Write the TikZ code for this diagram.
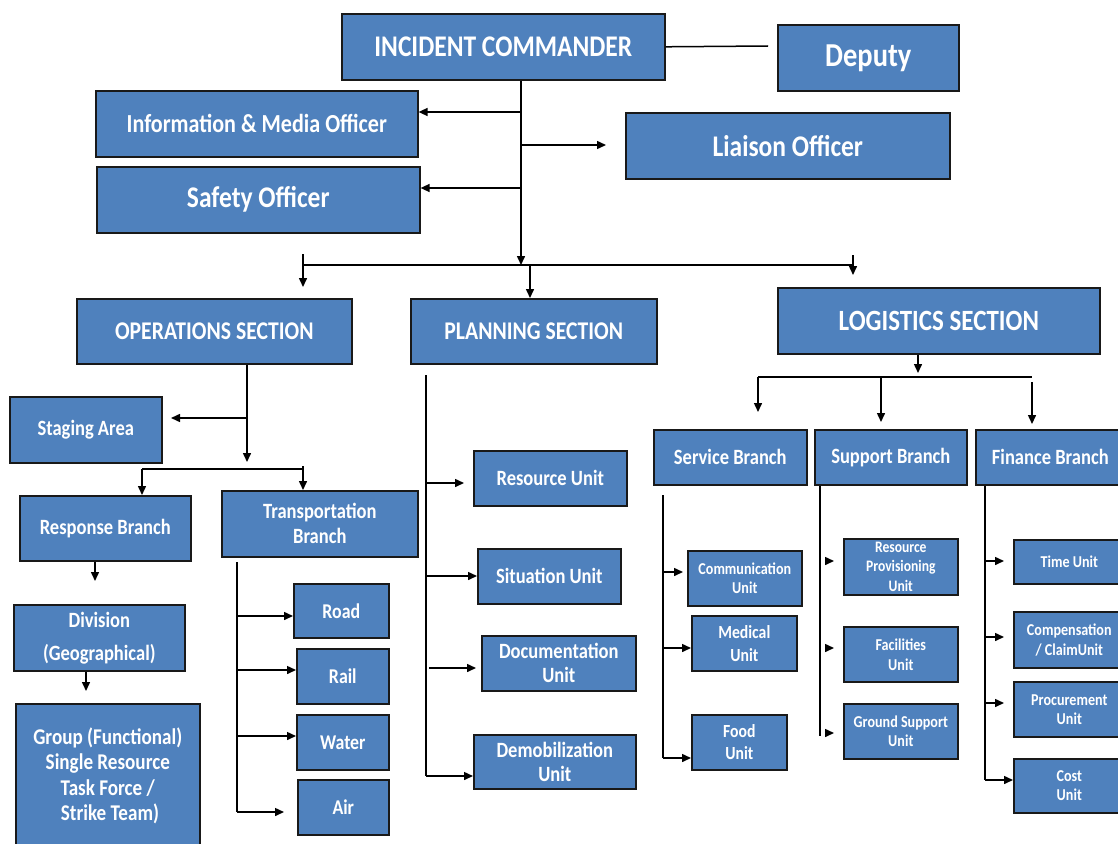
\documentclass[tikz,border=0pt]{standalone}
\usepackage{fontspec}
\setmainfont{Carlito}[FakeStretch=0.85]
\usetikzlibrary{arrows.meta}
\definecolor{boxblue}{HTML}{4F81BD}
\newcommand\myfs[2]{\fontsize{#1}{#2}\selectfont}
\begin{document}
\begin{tikzpicture}[x=1pt,y=-1pt,
  box/.style={draw=black!90, line width=1.6pt, fill=boxblue, text=white, inner sep=0pt,
    align=center, anchor=north west},
  fz/.style n args={2}{font=\bfseries\myfs{#1}{#2}},
  ln/.style={line width=1.5pt, black},
  arr/.style={ln, -{Triangle[length=9pt,width=8pt]}}]
\useasboundingbox (0,0) rectangle (1118,843);
% top level
\node[box, fz={30}{33}, minimum width=323pt, minimum height=66pt] (ic) at (341,13) {INCIDENT COMMANDER};
\node[box, fz={33.5}{36}, minimum width=181pt, minimum height=66pt] (dep) at (777,24) {Deputy};
\node[box, fz={26}{29}, minimum width=322pt, minimum height=66pt] (info) at (95,90) {Information \& Media Officer};
\node[box, fz={30}{33}, minimum width=323pt, minimum height=66pt] (safety) at (96,166) {Safety Officer};
\node[box, fz={30}{33}, minimum width=324pt, minimum height=66pt] (liaison) at (625,112) {Liaison Officer};
% sections
\node[box, fz={25.5}{28}, minimum width=275pt, minimum height=65pt] (ops) at (76,298) {OPERATIONS SECTION};
\node[box, fz={25.5}{28}, minimum width=246pt, minimum height=65pt] (plan) at (410,298) {PLANNING SECTION};
\node[box, fz={29.4}{32}, minimum width=322pt, minimum height=66pt] (log) at (777,287) {LOGISTICS SECTION};
% operations
\node[box, fz={21.8}{24}, minimum width=152pt, minimum height=66pt] (staging) at (9,396) {Staging Area};
\node[box, fz={21.8}{24}, minimum width=171pt, minimum height=65pt] (resp) at (19,495) {Response Branch};
\node[box, fz={21.8}{25}, minimum width=196pt, minimum height=66pt] (trans) at (221,490) {Transportation\\Branch};
\node[box, fz={21.8}{33}, minimum width=171pt, minimum height=66pt] (div) at (13,604) {Division\\(Geographical)};
\node[box, fz={22.5}{25.5}, minimum width=184pt, minimum height=144pt] (group) at (15,703) {Group (Functional)\\Single Resource\\Task Force /\\\ Strike Team)};
\node[box, fz={21}{24}, minimum width=95pt, minimum height=54pt] (road) at (293,583) {Road};
\node[box, fz={21}{24}, minimum width=92pt, minimum height=55pt] (rail) at (296,648) {Rail};
\node[box, fz={21}{24}, minimum width=92pt, minimum height=55pt] (water) at (296,714) {Water};
\node[box, fz={21}{24}, minimum width=91pt, minimum height=55pt] (air) at (297,779) {Air};
% planning
\node[box, fz={21.8}{24}, minimum width=153pt, minimum height=55pt] (resu) at (473,450) {Resource Unit};
\node[box, fz={21.8}{24}, minimum width=143pt, minimum height=55pt] (sit) at (477,548) {Situation Unit};
\node[box, fz={21.8}{24}, minimum width=154pt, minimum height=55pt] (doc) at (481,635) {Documentation\\Unit};
\node[box, fz={21.8}{24}, minimum width=162pt, minimum height=54pt] (demob) at (473,734) {Demobilization\\Unit};
% logistics branches
\node[box, fz={21.8}{24}, minimum width=153pt, minimum height=55pt] (serv) at (653,429) {Service Branch};
\node[box, fz={21.8}{24}, minimum width=152pt, minimum height=55pt] (supp) at (814,429) {Support Branch};
\node[box, fz={21.8}{24}, minimum width=149pt, minimum height=55pt] (fin) at (975,429) {Finance Branch};
\node[box, fz={16.6}{19.5}, minimum width=114pt, minimum height=55pt] (comm) at (687,550) {Communication\\Unit};
\node[box, fz={18.5}{23}, minimum width=105pt, minimum height=55pt] (med) at (691,615) {Medical\\Unit};
\node[box, fz={18.5}{22}, minimum width=95pt, minimum height=55pt] (food) at (691,714) {Food\\Unit};
\node[box, fz={16}{19.5}, minimum width=114pt, minimum height=56pt] (rprov) at (843,538) {Resource\\Provisioning\\Unit};
\node[box, fz={16.6}{20}, minimum width=114pt, minimum height=55pt] (fac) at (843,626) {Facilities\\Unit};
\node[box, fz={16.6}{19}, minimum width=114pt, minimum height=55pt] (gsup) at (843,703) {Ground Support\\Unit};
\node[box, fz={16.6}{19}, minimum width=111pt, minimum height=44pt] (time) at (1013,539) {Time Unit};
\node[box, fz={16.6}{20}, minimum width=111pt, minimum height=56pt] (comp) at (1013,611) {Compensation\\/ ClaimUnit};
\node[box, fz={16.6}{19}, minimum width=111pt, minimum height=55pt] (proc) at (1013,681) {Procurement\\Unit};
\node[box, fz={16.6}{19}, minimum width=111pt, minimum height=54pt] (cost) at (1013,758) {Cost\\Unit};
% ---- connectors: top
\coordinate (dgap) at (768,46);
\draw[ln] (ic.east) -- (dgap);
\coordinate (cx) at (521,0);
\coordinate (tbus) at (521,265);
\draw[arr] (ic.south -| cx) -- (tbus);
\coordinate (ja) at (521,112);
\coordinate (jb) at (521,188);
\coordinate (jc) at (521,145);
\coordinate (jcend) at (606,145);
\draw[arr] (ja) -- (ja -| info.east);
\draw[arr] (jb) -- (jb -| safety.east);
\draw[arr] (jc) -- (jcend);
\coordinate (bL) at (303,265);
\coordinate (bR) at (853,265);
\draw[ln] (bL) -- (bR);
\coordinate (bLtop) at (303,254);
\coordinate (bLend) at (303,287);
\draw[arr] (bLtop) -- (bLend);
\coordinate (pj) at (530,265);
\draw[arr] (pj) -- (pj |- plan.north);
\coordinate (bRtop) at (853,255);
\coordinate (bRend) at (853,275);
\draw[arr] (bRtop) -- (bRend);
% ---- operations
\coordinate (ox) at (247,0);
\coordinate (oend) at (247,462);
\draw[arr] (ops.south -| ox) -- (oend);
\coordinate (sj) at (247,418);
\coordinate (send) at (171,418);
\draw[arr] (sj) -- (send);
\coordinate (b2L) at (142,469);
\coordinate (b2R) at (303,469);
\draw[ln] (b2L) -- (b2R);
\draw[arr] (b2L) -- (b2L |- resp.north);
\coordinate (b2Rt) at (303,466);
\draw[arr] (b2Rt) -- (b2Rt |- trans.north);
\coordinate (rx) at (95,0);
\coordinate (rend) at (95,581);
\draw[arr] (resp.south -| rx) -- (rend);
\coordinate (dx) at (86,0);
\coordinate (dend) at (86,691);
\draw[arr] (div.south -| dx) -- (dend);
\coordinate (tt) at (237,562);
\coordinate (tb) at (237,812);
\draw[ln] (tt) -- (tb);
\coordinate (t1) at (237,616);
\coordinate (t2) at (237,670);
\coordinate (t3) at (237,736);
\coordinate (t4end) at (284,812);
\draw[arr] (t1) -- (t1 -| road.west);
\draw[arr] (t2) -- (t2 -| rail.west);
\draw[arr] (t3) -- (t3 -| water.west);
\draw[arr] (tb) -- (t4end);
% ---- planning
\coordinate (pt) at (426,375);
\coordinate (pb) at (426,776);
\draw[ln] (pt) -- (pb);
\coordinate (p1) at (426,483);
\coordinate (p1e) at (464,483);
\coordinate (p2) at (426,576);
\coordinate (p3) at (429,668);
\coordinate (p3e) at (476,668);
\draw[arr] (p1) -- (p1e);
\draw[arr] (p2) -- (p2 -| sit.west);
\draw[arr] (p3) -- (p3e);
\draw[arr] (pb) -- (pb -| demob.west);
% ---- logistics
\coordinate (lx) at (918,0);
\coordinate (lend) at (918,373);
\draw[arr] (log.south -| lx) -- (lend);
\coordinate (lbL) at (758,377);
\coordinate (lbR) at (1032,377);
\draw[ln] (lbL) -- (lbR);
\coordinate (l1e) at (758,412);
\coordinate (l2) at (881,377);
\coordinate (l2e) at (881,422);
\coordinate (l3) at (1032,382);
\coordinate (l3e) at (1032,424);
\draw[arr] (lbL) -- (l1e);
\draw[arr] (l2) -- (l2e);
\draw[arr] (l3) -- (l3e);
% service
\coordinate (st) at (663,495);
\coordinate (sb) at (663,758);
\draw[ln] (st) -- (sb);
\coordinate (s1) at (663,572);
\coordinate (s1e) at (683,572);
\coordinate (s2) at (663,648);
\draw[arr] (s1) -- (s1e);
\draw[arr] (s2) -- (s2 -| med.west);
\draw[arr] (sb) -- (sb -| food.west);
% support
\coordinate (ux) at (820,0);
\coordinate (ub) at (820,736);
\draw[ln] (supp.south -| ux) -- (ub);
\coordinate (u1) at (825,561);
\coordinate (u1e) at (834,561);
\coordinate (u2) at (825,648);
\coordinate (u2e) at (834,648);
\coordinate (u3) at (825,733);
\coordinate (u3e) at (834,733);
\draw[arr] (u1) -- (u1e);
\draw[arr] (u2) -- (u2e);
\draw[arr] (u3) -- (u3e);
% finance
\coordinate (fx) at (985,0);
\coordinate (fb) at (985,780);
\draw[ln] (fin.south -| fx) -- (fb);
\coordinate (f1) at (985,561);
\coordinate (f1e) at (1004,561);
\coordinate (f2) at (985,637);
\coordinate (f2e) at (1004,637);
\coordinate (f3) at (985,703);
\coordinate (f3e) at (1004,703);
\draw[arr] (f1) -- (f1e);
\draw[arr] (f2) -- (f2e);
\draw[arr] (f3) -- (f3e);
\draw[arr] (fb) -- (fb -| cost.west);
\end{tikzpicture}
\end{document}
